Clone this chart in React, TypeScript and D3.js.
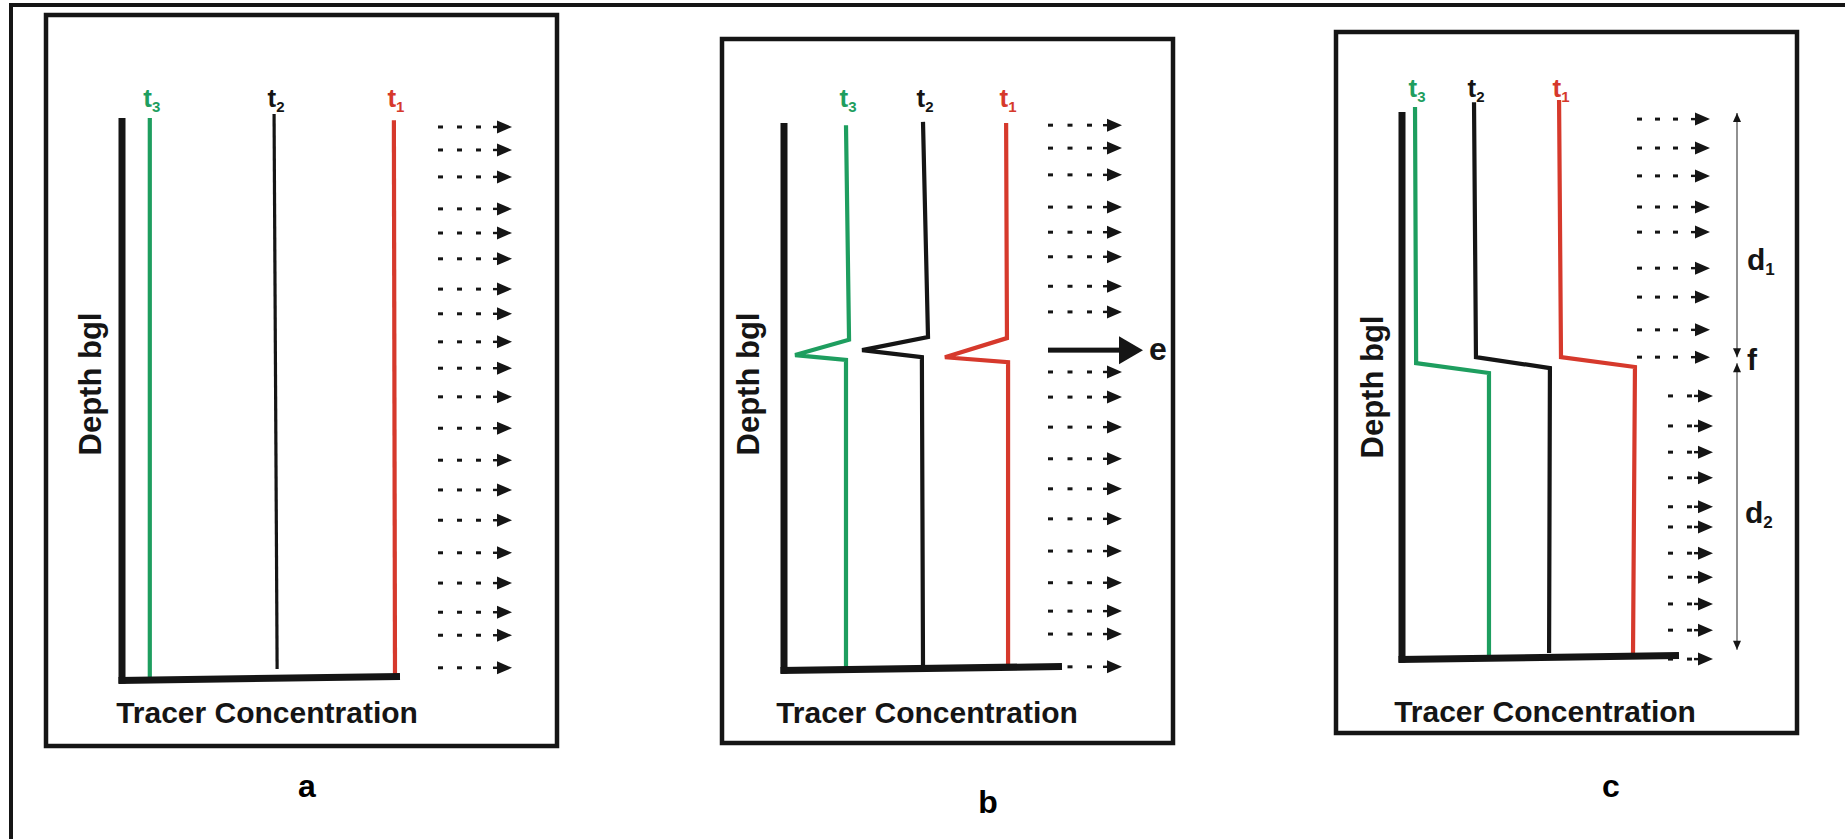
import React from "react";
import * as d3 from "d3";

const GREEN = "#1e9e5f";
const RED = "#d6392c";
const INK = "#151515";
const FONT = "'Liberation Sans', Arial, sans-serif";

// tracer profiles as [concentration %, depth %]; depth 0 = top of the axis, 100 = its base
const aT3 = [[10, 0], [10, 100]];
const aT2 = [[54.7, -0.7], [55.8, 98.2]];
const aT1 = [[97.8, 0.4], [98.2, 99.3]];

const bT3 = [[22.3, 0.4], [23.4, 39.7], [4.0, 42.5], [22.3, 43.4], [22.3, 100]];
const bT2 = [[50.0, -0.2], [51.8, 39.2], [28.1, 41.6], [49.6, 42.9], [50.0, 99.3]];
const bT1 = [[79.9, 0], [80.2, 39.4], [57.9, 42.9], [80.6, 43.8], [80.6, 99.6]];

const cT3 = [[4.7, -0.9], [5.1, 46.0], [31.4, 47.8], [31.4, 100]];
const cT2 = [[26.0, -1.8], [26.7, 44.9], [53.4, 46.9], [53.1, 99.1]];
const cT1 = [[56.7, -2.2], [57.4, 44.9], [84.1, 46.7], [83.4, 99.1]];

const timeSubs = ["3", "2", "1"];
const timeColors = [GREEN, INK, RED];

// depth of the dashed flow arrows
const aFlow = [1.6, 5.7, 10.5, 16.2, 20.5, 25.1, 30.5, 34.9, 39.9, 44.6, 49.7, 55.3, 61.0, 66.3, 71.7, 77.5, 82.9, 88.1, 92.2, 98.0];
const bFlow = [0.4, 4.6, 9.5, 15.4, 20.0, 24.5, 29.9, 34.6, 45.6, 50.2, 55.7, 61.5, 67.0, 72.5, 78.4, 84.2, 89.4, 93.6, 99.6];
const bPulse = 41.6;
const cFlow = [1.3, 6.6, 11.7, 17.4, 22.0, 28.6, 33.9, 39.9, 44.9, 52.0, 57.5, 62.3, 67.0, 72.3, 76.0, 80.8, 85.2, 90.1, 94.9, 100.2];
const cDashes = [3, 3, 3, 3, 3, 3, 3, 3, 3, 2, 2, 2, 2, 2, 2, 2, 2, 2, 2, 2];

// zones in panel c: [from, to] depth
const cZones = [[0.2, 44.9], [46.0, 98.5]];

type Panel = {
  box: number[];
  ox: number; right: number; top: number; bottom: number;
  depthLabel: number[]; xLabel: number[]; letter: [number, number, string]; tY: number;
  profiles: number[][][];
  flow: number[];
  dashes: number[];
  arrow: (n: number) => { x0: number; gap: number; tip: number };
};

const panels: Panel[] = [
  {
    box: [46, 15, 557, 746], ox: 122, right: 400, top: 118, bottom: 679,
    depthLabel: [101, 384], xLabel: [267, 723], letter: [307, 797, "a"], tY: 107,
    profiles: [aT3, aT2, aT1], flow: aFlow, dashes: aFlow.map(() => 3),
    arrow: () => ({ x0: 438, gap: 19, tip: 512 }),
  },
  {
    box: [722, 39, 1173, 743], ox: 784, right: 1062, top: 123, bottom: 669,
    depthLabel: [759, 384], xLabel: [927, 723], letter: [988, 813, "b"], tY: 107,
    profiles: [bT3, bT2, bT1], flow: bFlow, dashes: bFlow.map(() => 3),
    arrow: () => ({ x0: 1048, gap: 19.5, tip: 1122 }),
  },
  {
    box: [1336, 32, 1797, 733], ox: 1402, right: 1679, top: 112, bottom: 658,
    depthLabel: [1383, 387], xLabel: [1545, 722], letter: [1611, 797, "c"], tY: 97,
    profiles: [cT3, cT2, cT1], flow: cFlow, dashes: cDashes,
    arrow: (n) => (n === 3 ? { x0: 1637, gap: 18, tip: 1710 } : { x0: 1668, gap: 19, tip: 1713 }),
  },
];

function FlowArrow({ y, n, x0, gap, tip }: { y: number; n: number; x0: number; gap: number; tip: number }) {
  const head = 15;
  return (
    <g fill={INK}>
      {d3.range(n).map((i) => (
        <rect key={i} x={x0 + i * gap} y={y - 1.5} width={5} height={3} />
      ))}
      <rect x={tip - head - 4} y={y - 1.2} width={5} height={2.4} />
      <path d={`M${tip - head},${y - 6.5}L${tip},${y}L${tip - head},${y + 6.5}Z`} />
    </g>
  );
}

function PanelView({ p, idx }: { p: Panel; idx: number }) {
  const x = d3.scaleLinear().domain([0, 100]).range([p.ox, p.right]);
  const y = d3.scaleLinear().domain([0, 100]).range([p.top, p.bottom]);
  const line = d3.line<number[]>().x((d) => x(d[0])).y((d) => y(d[1]));
  const [bx0, by0, bx1, by1] = p.box;

  return (
    <g>
      <rect x={bx0} y={by0} width={bx1 - bx0} height={by1 - by0} fill="none" stroke={INK} strokeWidth={4.5} />

      {p.flow.map((d, i) => {
        const a = p.arrow(p.dashes[i]);
        return <FlowArrow key={i} y={y(d)} n={p.dashes[i]} {...a} />;
      })}

      {idx === 1 && (
        <g fill={INK}>
          <rect x={1048} y={y(bPulse) - 2.5} width={75} height={5} />
          <path d={`M1119,${y(bPulse) - 14}L1143,${y(bPulse)}L1119,${y(bPulse) + 14}Z`} />
          <text x={1158} y={y(bPulse) + 10} fontFamily={FONT} fontWeight="bold" fontSize={32} textAnchor="middle">e</text>
        </g>
      )}

      {p.profiles.map((pr, i) => (
        <path key={i} d={line(pr) || ""} fill="none" stroke={timeColors[i]}
          strokeWidth={idx === 0 && i === 1 ? 3.2 : 4.2} strokeLinejoin="miter" />
      ))}

      {/* axes */}
      <path d={`M${p.ox},${p.top}L${p.ox},${p.bottom + 4.5}`} stroke={INK} strokeWidth={7} />
      <path d={`M${p.ox - 3.5},${p.bottom + 1.5}L${p.right},${p.bottom - 2.5}`} stroke={INK} strokeWidth={7} />

      {p.profiles.map((pr, i) => (
        <text key={i} x={x(pr[0][0]) + 2} y={p.tY} fill={timeColors[i]} fontFamily={FONT}
          fontWeight="bold" fontSize={26} textAnchor="middle">
          t<tspan fontSize={15} dy={5}>{timeSubs[i]}</tspan>
        </text>
      ))}

      <text transform={`translate(${p.depthLabel[0]},${p.depthLabel[1]}) rotate(-90)`} textAnchor="middle"
        fontFamily={FONT} fontWeight="bold" fontSize={31} fill={INK}>Depth bgl</text>
      <text x={p.xLabel[0]} y={p.xLabel[1]} textAnchor="middle" fontFamily={FONT} fontWeight="bold"
        fontSize={30} fill={INK}>Tracer Concentration</text>
      <text x={p.letter[0]} y={p.letter[1]} textAnchor="middle" fontFamily={FONT} fontWeight="bold"
        fontSize={32} fill="#000">{p.letter[2]}</text>

      {idx === 2 && (
        <g>
          {cZones.map((z, i) => {
            const y0 = y(z[0]);
            const y1 = y(z[1]);
            return (
              <g key={i}>
                <line x1={1737} x2={1737} y1={y0} y2={y1} stroke="#555" strokeWidth={1.3} />
                <path d={`M1737,${y0}L1733,${y0 + 9}L1741,${y0 + 9}Z`} fill={INK} />
                <path d={`M1737,${y1}L1733,${y1 - 9}L1741,${y1 - 9}Z`} fill={INK} />
              </g>
            );
          })}
          <text x={1747} y={y(28.9)} fontFamily={FONT} fontWeight="bold" fontSize={30} fill={INK}>
            d<tspan fontSize={17} dy={5}>1</tspan>
          </text>
          <text x={1747} y={y((cZones[0][1] + cZones[1][0]) / 2) + 10} fontFamily={FONT} fontWeight="bold"
            fontSize={30} fill={INK}>f</text>
          <text x={1745} y={y(75.3)} fontFamily={FONT} fontWeight="bold" fontSize={30} fill={INK}>
            d<tspan fontSize={17} dy={5}>2</tspan>
          </text>
        </g>
      )}
    </g>
  );
}

export default function App() {
  const W = 1845;
  const H = 839;
  return (
    <svg width={W} height={H} style={{ position: "absolute", left: 0, top: 0, background: "#fff" }}>
      <rect x={0} y={0} width={W} height={H} fill="#fff" />
      {/* outer frame: top and left edges only */}
      <path d={`M11,${H}L11,5L${W},5`} fill="none" stroke={INK} strokeWidth={4} />
      {panels.map((p, i) => (
        <PanelView key={i} p={p} idx={i} />
      ))}
    </svg>
  );
}
